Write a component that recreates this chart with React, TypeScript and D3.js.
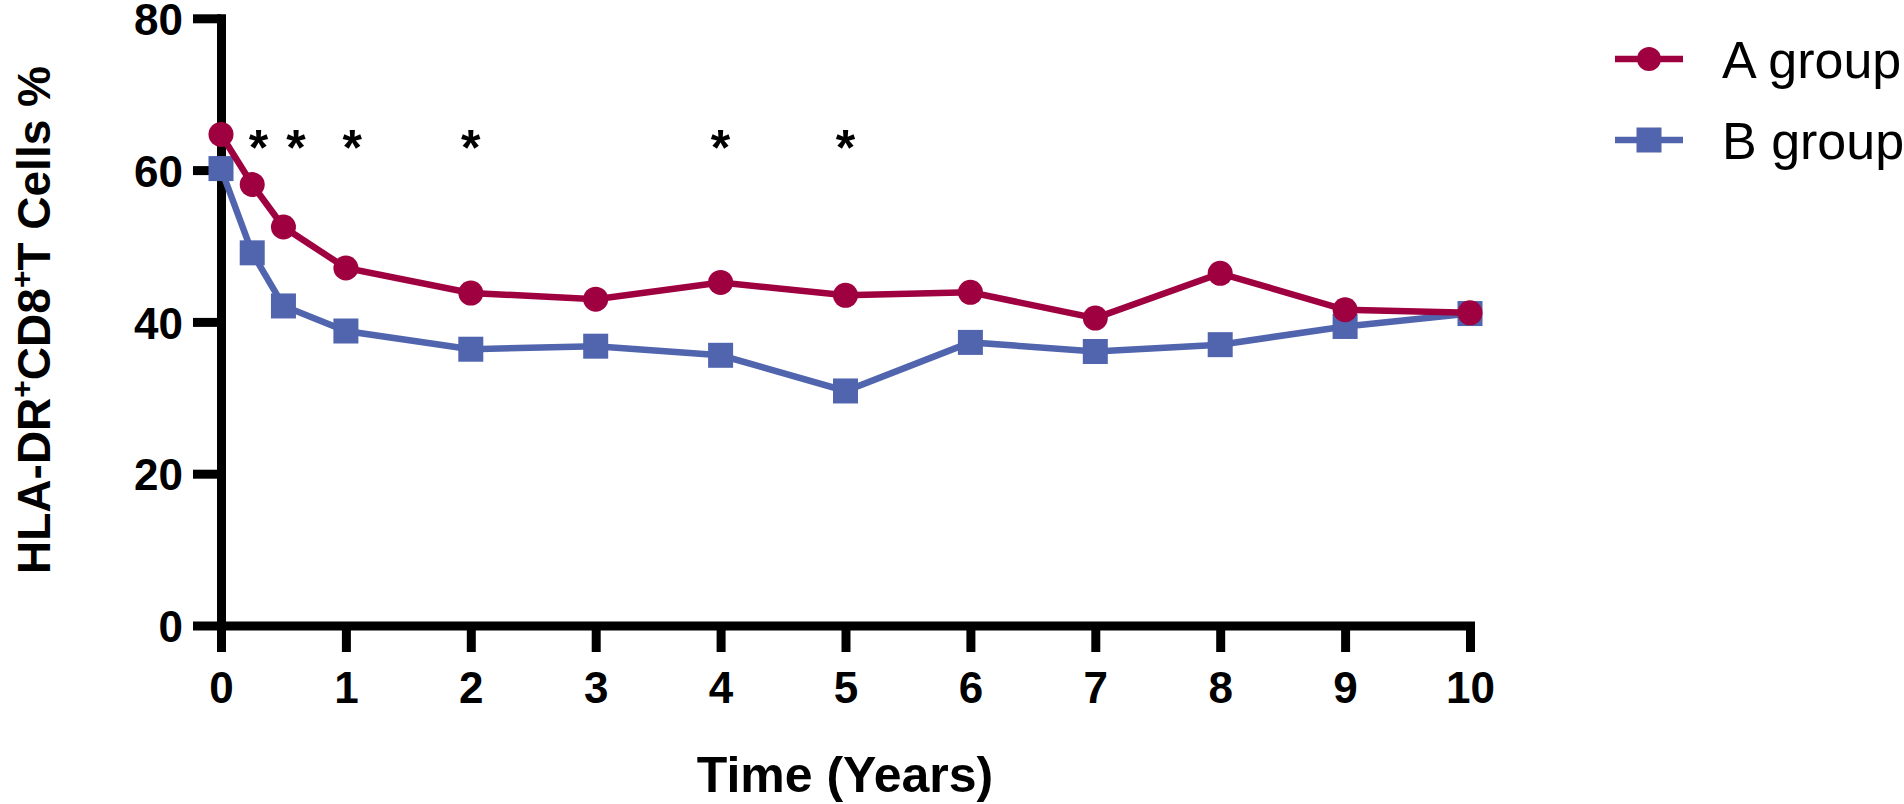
import React, { useEffect, useRef } from 'react';
import * as d3 from 'd3';

// time points (years) and mean values per group
const years = [0, 0.25, 0.5, 1, 2, 3, 4, 5, 6, 7, 8, 9, 10];
const groupA = [64.7, 58.1, 52.5, 47.1, 43.8, 43.0, 45.2, 43.5, 43.9, 40.5, 46.4, 41.6, 41.2];
const groupB = [60.2, 49.1, 42.1, 38.8, 36.4, 36.8, 35.6, 30.9, 37.3, 36.1, 37.0, 39.4, 41.1];
const sigYears = [0.3, 0.6, 1.05, 2, 4, 5];
const sigLevel = 60.7;
const xTicks = [0, 1, 2, 3, 4, 5, 6, 7, 8, 9, 10];
const yTicks = [0, 20, 40, 60, 80];
const seriesNames = ['A group', 'B group'];

const colorA = '#9E0040';
const colorB = '#5164AE';
const font = "'Liberation Sans', Arial, sans-serif";

const W = 1904;
const H = 804;

const App: React.FC = () => {
    const svgRef = useRef<SVGSVGElement | null>(null);

    useEffect(() => {
        const svg = d3.select(svgRef.current);
        svg.selectAll('*').remove();

        const x = d3.scaleLinear().domain([0, 10]).range([221, 1470]);
        const y = d3.scaleLinear().domain([0, 80]).range([625.5, 18.3]);

        // x axis
        const gx = svg.append('g')
            .attr('transform', `translate(0,${y(0)})`)
            .call(d3.axisBottom(x).tickValues(xTicks).tickFormat(d3.format('d')).tickSize(26.5).tickSizeOuter(0).tickPadding(20));
        // y axis
        const gy = svg.append('g')
            .attr('transform', `translate(${x(0)},0)`)
            .call(d3.axisLeft(y).tickValues(yTicks).tickSize(28).tickSizeOuter(0).tickPadding(10));

        [gx, gy].forEach(g => {
            g.select('.domain').attr('stroke', '#000').attr('stroke-width', 9).attr('stroke-linecap', 'square');
            g.selectAll('.tick line').attr('stroke', '#000').attr('stroke-width', 9);
            g.selectAll('.tick text')
                .attr('fill', '#000')
                .style('font-family', font)
                .style('font-size', '44px')
                .style('font-weight', 'bold');
        });
        gy.selectAll('.tick text').attr('dy', '0.37em');

        // axis titles
        svg.append('text')
            .attr('x', 845)
            .attr('y', 792)
            .attr('text-anchor', 'middle')
            .style('font-family', font)
            .style('font-size', '50px')
            .style('font-weight', 'bold')
            .text('Time (Years)');

        const yt = svg.append('text')
            .attr('transform', 'translate(50,320) rotate(-90)')
            .attr('text-anchor', 'middle')
            .style('font-family', font)
            .style('font-size', '46px')
            .style('font-weight', 'bold');
        yt.append('tspan').text('HLA-DR');
        yt.append('tspan').attr('dy', -18).style('font-size', '30px').text('+');
        yt.append('tspan').attr('dy', 18).text('CD8');
        yt.append('tspan').attr('dy', -18).style('font-size', '30px').text('+');
        yt.append('tspan').attr('dy', 18).text('T Cells %');

        const line = d3.line<number>()
            .x((_, i) => x(years[i]))
            .y(d => y(d));

        // B group (drawn first, A sits on top)
        svg.append('path')
            .datum(groupB)
            .attr('d', line)
            .attr('fill', 'none')
            .attr('stroke', colorB)
            .attr('stroke-width', 6.5);
        svg.selectAll('.sqB')
            .data(groupB)
            .join('rect')
            .attr('class', 'sqB')
            .attr('x', (_, i) => x(years[i]) - 12.5)
            .attr('y', d => y(d) - 12.5)
            .attr('width', 25)
            .attr('height', 25)
            .attr('fill', colorB);

        svg.append('path')
            .datum(groupA)
            .attr('d', line)
            .attr('fill', 'none')
            .attr('stroke', colorA)
            .attr('stroke-width', 6.5);
        svg.selectAll('.dotA')
            .data(groupA)
            .join('circle')
            .attr('class', 'dotA')
            .attr('cx', (_, i) => x(years[i]))
            .attr('cy', d => y(d))
            .attr('r', 12.5)
            .attr('fill', colorA);

        // significance marks
        svg.selectAll('.sig')
            .data(sigYears)
            .join('text')
            .attr('class', 'sig')
            .attr('x', d => x(d))
            .attr('y', y(sigLevel))
            .attr('text-anchor', 'middle')
            .style('font-family', font)
            .style('font-size', '50px')
            .style('font-weight', 'bold')
            .text('*');

        // legend
        const legend = svg.append('g');
        seriesNames.forEach((name, i) => {
            const ly = 59 + i * 81;
            const c = i === 0 ? colorA : colorB;
            legend.append('line')
                .attr('x1', 1615).attr('x2', 1683)
                .attr('y1', ly).attr('y2', ly)
                .attr('stroke', c)
                .attr('stroke-width', 6.5);
            if (i === 0) {
                legend.append('circle').attr('cx', 1649).attr('cy', ly).attr('r', 12).attr('fill', c);
            } else {
                legend.append('rect').attr('x', 1636.5).attr('y', ly - 12.5).attr('width', 25).attr('height', 25).attr('fill', c);
            }
            legend.append('text')
                .attr('x', 1722)
                .attr('y', ly + 19)
                .style('font-family', font)
                .style('font-size', '52px')
                .text(name);
        });
    }, []);

    return (
        <svg
            ref={svgRef}
            width={W}
            height={H}
            style={{ position: 'absolute', left: 0, top: 0, background: '#fff' }}
        />
    );
};

export default App;
